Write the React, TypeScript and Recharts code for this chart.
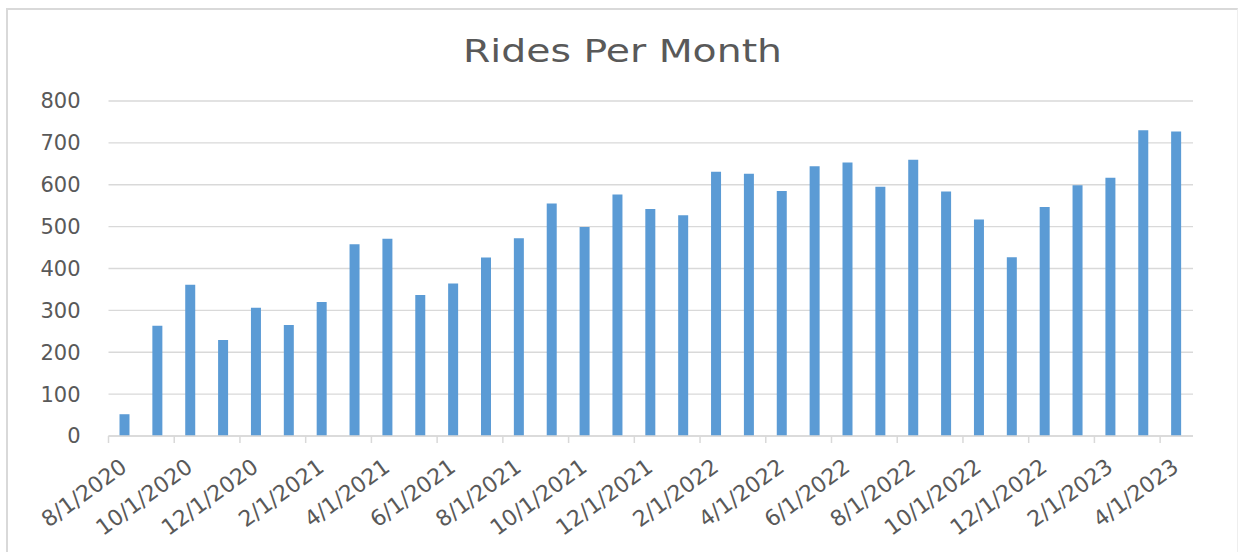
import React from 'react';
import { BarChart, Bar, XAxis, YAxis, CartesianGrid, Customized } from 'recharts';

const months: string[] = [
  '8/1/2020', '9/1/2020', '10/1/2020', '11/1/2020', '12/1/2020',
  '1/1/2021', '2/1/2021', '3/1/2021', '4/1/2021', '5/1/2021', '6/1/2021',
  '7/1/2021', '8/1/2021', '9/1/2021', '10/1/2021', '11/1/2021', '12/1/2021',
  '1/1/2022', '2/1/2022', '3/1/2022', '4/1/2022', '5/1/2022', '6/1/2022',
  '7/1/2022', '8/1/2022', '9/1/2022', '10/1/2022', '11/1/2022', '12/1/2022',
  '1/1/2023', '2/1/2023', '3/1/2023', '4/1/2023',
];

const rides: number[] = [
  52, 263, 361, 229, 306,
  265, 320, 458, 471, 337, 364,
  426, 472, 555, 499, 577, 542,
  527, 631, 626, 585, 644, 653,
  595, 660, 584, 517, 427, 547,
  599, 617, 730, 727,
];

const yTicks: number[] = [0, 100, 200, 300, 400, 500, 600, 700, 800];

const TITLE = 'Rides Per Month';

const data = months.map((m, i) => ({ month: m, rides: rides[i] }));

const TEXT = '#595959';
const GRID = '#D9D9D9';
const BAR = '#5B9BD5';
const FONT = '"DejaVu Sans", Verdana, sans-serif';

const XTick = (props: any) => {
  const { x, y, payload } = props;
  const idx = payload?.index ?? 0;
  if (idx % 2 !== 0) return null;
  const half = typeof payload?.offset === 'number' && payload.offset > 0 ? payload.offset : 16.43;
  const ax = x + 3.5;
  const ay = y + 34;
  return (
    <g>
      <line x1={x - half} x2={x - half} y1={y} y2={y + 7} stroke={GRID} strokeWidth={1.5} />
      <g transform={`translate(${ax}, ${ay}) rotate(-36)`}>
        <text x={0} y={0} textAnchor="end" fill={TEXT} fontSize={22} fontFamily={FONT}>
          {payload.value}
        </text>
      </g>
    </g>
  );
};

const Title = () => (
  <text
    x={622.5}
    y={62}
    textAnchor="middle"
    fill={TEXT}
    fontSize={31.5}
    fontFamily={FONT}
    textLength={319}
    lengthAdjust="spacingAndGlyphs"
  >
    {TITLE}
  </text>
);

export default function App() {
  return (
    <div style={{ position: 'absolute', left: 0, top: 0, width: 1238, height: 552, overflow: 'hidden', background: '#fff' }}>
      <div
        style={{
          position: 'absolute',
          left: 6,
          top: 8,
          width: 1229,
          height: 600,
          borderLeft: `2px solid ${GRID}`,
          borderTop: `2px solid ${GRID}`,
          borderRight: '1px solid #EEEEEE',
        }}
      />
      <div style={{ position: 'absolute', left: 0, top: 0 }}>
        <BarChart
          width={1238}
          height={552}
          data={data}
          margin={{ top: 101, right: 45, bottom: 0, left: 0 }}
          barSize={10}
        >
          <CartesianGrid vertical={false} stroke={GRID} strokeWidth={1.3} />
          <XAxis
            dataKey="month"
            interval={0}
            height={116}
            tickLine={false}
            tickSize={0}
            tickMargin={0}
            axisLine={{ stroke: GRID, strokeWidth: 1.5 }}
            tick={<XTick />}
          />
          <YAxis
            width={108.5}
            domain={[0, 800]}
            ticks={yTicks}
            axisLine={false}
            tickLine={false}
            tickSize={0}
            tickMargin={28}
            tick={{ fill: TEXT, fontSize: 21, fontFamily: FONT }}
          />
          <Bar dataKey="rides" fill={BAR} isAnimationActive={false} />
          <Customized component={<Title />} />
        </BarChart>
      </div>
    </div>
  );
}
